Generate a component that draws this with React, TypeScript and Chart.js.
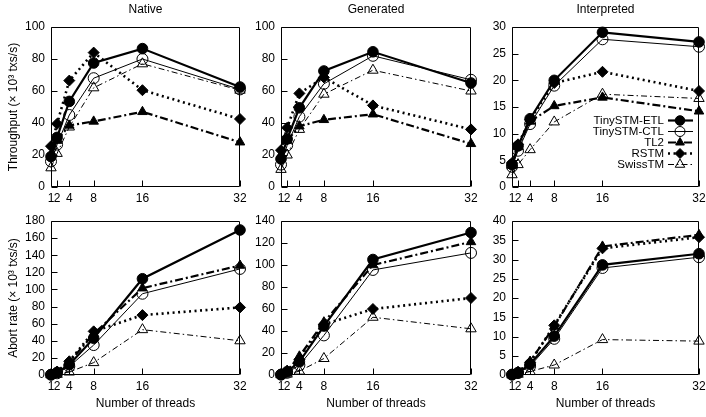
import React, { useEffect, useRef } from "react";
import { Chart, registerables } from "chart.js";

Chart.register(...registerables);

// ---------- DATA ----------
const THREADS = [1, 2, 4, 8, 16, 32];
const SERIES_NAMES = ["TinySTM-ETL", "TinySTM-CTL", "TL2", "RSTM", "SwissTM"];
const PANEL_TITLES = ["Native", "Generated", "Interpreted"];
const Y_TITLES = ["Throughput (× 10³ txs/s)", "Abort rate (× 10³ txs/s)"];
const X_TITLE = "Number of threads";

// Throughput (rows follow SERIES_NAMES order)
const TP_NATIVE = [
  [19, 31, 53.5, 77.5, 86.5, 62.5],
  [16, 26.5, 45, 68, 80, 61],
  [20, 29, 38.5, 41, 47, 28],
  [25.5, 39.5, 66.5, 84, 60.5, 42.5],
  [12, 21, 37.5, 62, 77, 60.5],
];
const TP_GENERATED = [
  [17.5, 30, 49.5, 72.5, 84.5, 65],
  [14, 26, 44, 64.5, 82, 67],
  [20, 29, 38, 42, 45.5, 27],
  [23, 37, 58.5, 68.5, 51, 36],
  [11, 20, 36, 58, 73, 60],
];
const TP_INTERPRETED = [
  [4.2, 7.7, 12.8, 20, 29, 27.2],
  [3.8, 6.8, 11.8, 19, 27.7, 26.3],
  [4, 7.5, 12.3, 15.2, 16.8, 14.2],
  [4.5, 8, 12.6, 19.5, 21.6, 18],
  [2.3, 4.2, 7, 12.2, 17.4, 16.6],
];
// Abort rate
const AB_NATIVE = [
  [0.5, 3, 12, 43, 112.5, 169.5],
  [0.3, 2, 10, 35, 95, 124],
  [0.5, 3.5, 15, 48, 101.5, 128],
  [0.5, 4, 16, 51, 70, 79],
  [0.2, 0.8, 3.5, 14.5, 53, 40],
];
const AB_GENERATED = [
  [0.5, 3, 12, 44.5, 105, 129.5],
  [0.3, 2, 9, 36, 95.5, 111],
  [0.5, 4, 17, 48, 100, 121],
  [0.5, 3.5, 14, 46, 60, 70],
  [0.2, 0.8, 3.5, 15, 52.5, 42],
];
const AB_INTERPRETED = [
  [0.1, 0.6, 2.8, 10.1, 28.6, 31.5],
  [0.1, 0.5, 2.3, 9.4, 27.8, 30.6],
  [0.1, 0.8, 3.5, 12.6, 33.4, 36.4],
  [0.1, 0.8, 3.3, 12.9, 32.9, 35.8],
  [0, 0.2, 0.9, 2.6, 9.2, 8.8],
];

const TP_MAX = [100, 100, 30];
const TP_STEP = [20, 20, 5];
const AB_MAX = [180, 140, 40];
const AB_STEP = [20, 20, 5];

// ---------- STYLE ----------
const FONT = "'Liberation Sans', Arial, Helvetica, sans-serif";
Chart.defaults.font.family = FONT;
Chart.defaults.font.size = 12;
Chart.defaults.color = "#000";

type Shape = "circle" | "triangle" | "rectRot";
const STYLES: {
  width: number;
  dash: number[];
  shape: Shape;
  filled: boolean;
  r: number;
}[] = [
  { width: 2.2, dash: [], shape: "circle", filled: true, r: 5.3 },
  { width: 1, dash: [], shape: "circle", filled: false, r: 5.5 },
  { width: 2.2, dash: [8, 3, 2, 3], shape: "triangle", filled: true, r: 5.5 },
  { width: 2.6, dash: [2, 3.5], shape: "rectRot", filled: true, r: 5.5 },
  { width: 1, dash: [6, 3, 1.5, 3], shape: "triangle", filled: false, r: 6 },
];

// geometry (page coordinates)
const COLS = [
  { canvasLeft: 0, yW: 51, plotW: 189, padR: 10 },
  { canvasLeft: 250, yW: 31, plotW: 190, padR: 10 },
  { canvasLeft: 480, yW: 32, plotW: 191, padR: 3 },
];
const ROWS = [
  { canvasTop: 0, padTop: 27, plotH: 160, xH: 30 },
  { canvasTop: 211, padTop: 10, plotH: 154, xH: 42 },
];

function drawMarker(
  ctx: CanvasRenderingContext2D,
  shape: Shape,
  x: number,
  y: number,
  r: number,
  filled: boolean
) {
  ctx.beginPath();
  if (shape === "circle") {
    ctx.arc(x, y, r, 0, Math.PI * 2);
  } else if (shape === "triangle") {
    for (let i = 0; i < 3; i++) {
      const a = (i * 2 * Math.PI) / 3;
      const px = x + Math.sin(a) * r;
      const py = y - Math.cos(a) * r;
      if (i === 0) ctx.moveTo(px, py);
      else ctx.lineTo(px, py);
    }
  } else {
    ctx.moveTo(x, y - r);
    ctx.lineTo(x + r, y);
    ctx.lineTo(x, y + r);
    ctx.lineTo(x - r, y);
  }
  ctx.closePath();
  ctx.setLineDash([]);
  ctx.lineWidth = 1;
  ctx.strokeStyle = "#000";
  if (filled) {
    ctx.fillStyle = "#000";
    ctx.fill();
  }
  ctx.stroke();
}

type PanelProps = {
  row: number;
  col: number;
  series: number[][];
  yMax: number;
  yStep: number;
};

function Panel({ row, col, series, yMax, yStep }: PanelProps) {
  const ref = useRef<HTMLCanvasElement>(null);
  const C = COLS[col];
  const R = ROWS[row];
  const width = C.yW + C.plotW + C.padR;
  const height = R.padTop + R.plotH + R.xH;

  useEffect(() => {
    if (!ref.current) return;
    const showLegend = row === 0 && col === 2;
    const title = row === 0 ? PANEL_TITLES[col] : "";

    const framePlugin = {
      id: "frame" + row + col,
      beforeDatasetsDraw(chart: any) {
        const { ctx, chartArea: a, scales } = chart;
        ctx.save();
        ctx.strokeStyle = "#000";
        ctx.lineWidth = 1;
        ctx.setLineDash([]);
        const L = Math.round(a.left) + 0.5;
        const T = Math.round(a.top) + 0.5;
        const Rr = Math.round(a.right) - 0.5;
        const B = Math.round(a.bottom) - 0.5;
        ctx.beginPath();
        ctx.rect(L, T, Rr - L, B - T);
        ctx.stroke();
        ctx.beginPath();
        for (const v of THREADS) {
          const x = Math.round(scales.x.getPixelForValue(v)) + 0.5;
          ctx.moveTo(x, B);
          ctx.lineTo(x, B - 6);
        }
        for (const t of scales.y.ticks) {
          const y = Math.round(scales.y.getPixelForValue(t.value)) + 0.5;
          ctx.moveTo(L, y);
          ctx.lineTo(L + 6, y);
        }
        ctx.stroke();
        ctx.restore();
      },
      afterDraw(chart: any) {
        const { ctx, chartArea: a } = chart;
        ctx.save();
        if (title) {
          ctx.font = `12px ${FONT}`;
          ctx.fillStyle = "#000";
          ctx.textAlign = "center";
          ctx.textBaseline = "middle";
          ctx.fillText(title, (a.left + a.right) / 2, 10);
        }
        if (showLegend) {
          const rowsY = [120.5, 131.5, 142.5, 153.5, 164.5];
          const off = C.canvasLeft;
          const textRight = 664 - off;
          const x0 = 668 - off;
          const x1 = 693 - off;
          const mx = 680 - off;
          ctx.font = `11.5px ${FONT}`;
          ctx.textAlign = "right";
          ctx.textBaseline = "middle";
          SERIES_NAMES.forEach((name, i) => {
            const s = STYLES[i];
            const y = rowsY[i];
            ctx.fillStyle = "#000";
            ctx.fillText(name, textRight, y + 0.5);
            ctx.beginPath();
            ctx.setLineDash(s.dash);
            ctx.lineWidth = s.width;
            ctx.strokeStyle = "#000";
            ctx.moveTo(x0, y);
            ctx.lineTo(x1, y);
            ctx.stroke();
            drawMarker(ctx, s.shape, mx, y, s.r - 0.5, s.filled);
          });
        }
        ctx.restore();
      },
    };

    const datasets = SERIES_NAMES.map((name, i) => {
      const s = STYLES[i];
      return {
        label: name,
        data: THREADS.map((t, k) => ({ x: t, y: series[i][k] })),
        borderColor: "#000",
        backgroundColor: "#000",
        borderWidth: s.width,
        borderDash: s.dash,
        pointStyle: s.shape,
        pointRadius: s.r,
        pointBorderWidth: 1,
        pointBorderColor: "#000",
        pointBackgroundColor: s.filled ? "#000" : "rgba(0,0,0,0)",
        tension: 0,
        clip: false as any,
        fill: false,
      };
    });

    const chart = new Chart(ref.current, {
      type: "line",
      data: { datasets },
      options: {
        animation: false,
        responsive: false,
        devicePixelRatio: 1,
        events: [],
        layout: { padding: { top: R.padTop, right: C.padR, left: 0, bottom: 0 } },
        plugins: {
          legend: { display: false },
          tooltip: { enabled: false },
          title: { display: false },
        },
        scales: {
          x: {
            type: "linear",
            min: 1,
            max: 32,
            grid: { display: false, drawTicks: false },
            border: { display: false },
            afterBuildTicks: (axis: any) => {
              axis.ticks = THREADS.map((v) => ({ value: v }));
            },
            afterFit: (scale: any) => {
              scale.height = R.xH;
              scale.paddingLeft = 0;
              scale.paddingRight = 0;
            },
            ticks: {
              autoSkip: false,
              maxRotation: 0,
              padding: 4,
              font: { size: 12 },
              callback: (v: any) => String(v),
            },
            title: {
              display: row === 1,
              text: X_TITLE,
              font: { size: 12 },
              padding: { top: 0, bottom: 6 },
            },
          },
          y: {
            type: "linear",
            min: 0,
            max: yMax,
            grid: { display: false, drawTicks: false },
            border: { display: false },
            afterFit: (scale: any) => {
              scale.width = C.yW;
              scale.paddingTop = 0;
              scale.paddingBottom = 0;
            },
            ticks: { stepSize: yStep, padding: 6, autoSkip: false, font: { size: 12 } },
            title: {
              display: col === 0,
              text: Y_TITLES[row],
              font: { size: 12 },
              padding: { top: 6, bottom: 0 },
            },
          },
        },
      },
      plugins: [framePlugin],
    } as any);
    return () => chart.destroy();
  }, []);

  return (
    <canvas
      ref={ref}
      width={width}
      height={height}
      style={{
        position: "absolute",
        left: C.canvasLeft,
        top: R.canvasTop,
        width,
        height,
      }}
    />
  );
}

export default function App() {
  const tp = [TP_NATIVE, TP_GENERATED, TP_INTERPRETED];
  const ab = [AB_NATIVE, AB_GENERATED, AB_INTERPRETED];
  return (
    <div
      style={{
        position: "absolute",
        left: 0,
        top: 0,
        width: 706,
        height: 417,
        background: "#fff",
        overflow: "hidden",
      }}
    >
      {[0, 1, 2].map((c) => (
        <Panel key={"t" + c} row={0} col={c} series={tp[c]} yMax={TP_MAX[c]} yStep={TP_STEP[c]} />
      ))}
      {[0, 1, 2].map((c) => (
        <Panel key={"a" + c} row={1} col={c} series={ab[c]} yMax={AB_MAX[c]} yStep={AB_STEP[c]} />
      ))}
    </div>
  );
}
